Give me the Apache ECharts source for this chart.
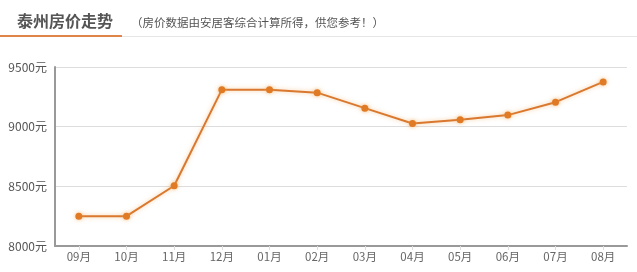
<!DOCTYPE html>
<html>
<head>
<meta charset="utf-8">
<script src="https://cdn.jsdelivr.net/npm/echarts@6/dist/echarts.min.js"></script>
<style>html,body{margin:0;padding:0;background:#fff;}#c{width:637px;height:272px;}</style>
</head>
<body>
<div id="c"></div>
<script>
var categories = ['09月','10月','11月','12月','01月','02月','03月','04月','05月','06月','07月','08月'];
var prices = [8250, 8250, 8505, 9310, 9310, 9285, 9155, 9027, 9058, 9097, 9205, 9375];
var yTicks = [8000, 8500, 9000, 9500];

var chart = echarts.init(document.getElementById('c'));
chart.setOption({
  animation: false,
  backgroundColor: '#fff',
  title: [{
    text: '泰州房价走势',
    left: 12, top: 8,
    textStyle: {fontSize: 16, fontWeight: 'bold', color: '#555', fontFamily: 'Noto Sans CJK SC'}
  }, {
    text: '（房价数据由安居客综合计算所得，供您参考！）',
    left: 126, top: 12,
    textStyle: {fontSize: 11.5, fontWeight: 'normal', color: '#555', fontFamily: 'Noto Sans CJK SC'}
  }],
  graphic: [
    {type: 'rect', shape: {x: 0, y: 36, width: 637, height: 1}, style: {fill: '#e6e6e6'}},
    {type: 'rect', shape: {x: 0, y: 35, width: 122, height: 2}, style: {fill: '#e0854a'}}
  ],
  grid: {left: 55, right: 10, top: 67, bottom: 26},
  xAxis: {
    type: 'category',
    data: categories,
    boundaryGap: true,
    axisLine: {lineStyle: {color: '#999', width: 2}},
    axisTick: {show: true, alignWithLabel: true, length: 4, lineStyle: {color: '#ddd'}},
    axisLabel: {color: '#666', fontSize: 11.5, margin: 5, fontFamily: 'Noto Sans CJK SC'}
  },
  yAxis: {
    type: 'value',
    min: 8000, max: 9500, interval: 500,
    axisLine: {show: true, lineStyle: {color: '#999', width: 2}},
    axisTick: {show: false},
    splitLine: {lineStyle: {color: '#ddd'}},
    axisLabel: {color: '#555', fontSize: 12, margin: 8, fontFamily: 'Noto Sans CJK SC',
      formatter: function (v) { return yTicks.indexOf(v) >= 0 ? v + '元' : ''; }}
  },
  series: [{
    type: 'line',
    data: prices,
    symbol: 'circle',
    symbolSize: 7,
    lineStyle: {color: '#d9782e', width: 2, shadowColor: 'rgba(240,170,90,0.6)', shadowBlur: 4},
    itemStyle: {color: '#e07a25', shadowColor: 'rgba(240,170,90,0.7)', shadowBlur: 4}
  }]
});
</script>
</body>
</html>
